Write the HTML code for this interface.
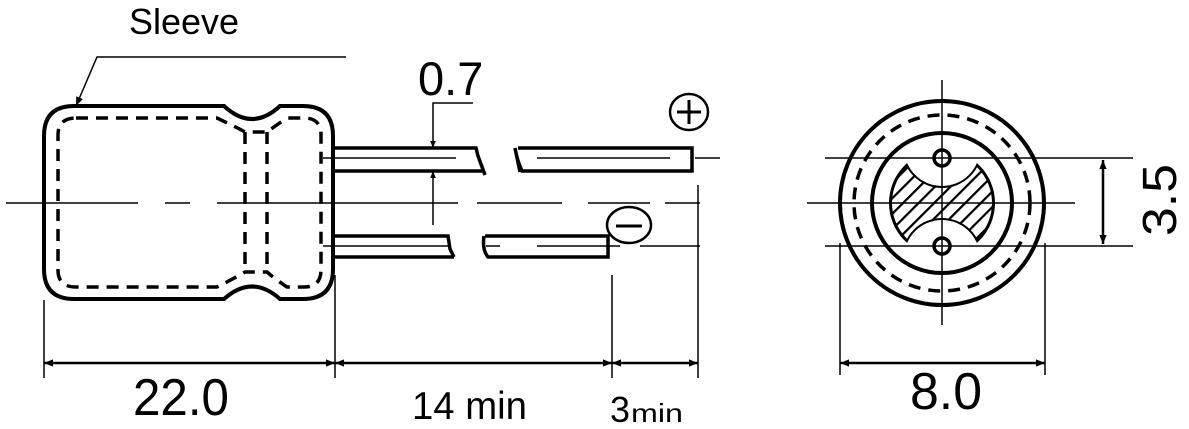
<!DOCTYPE html>
<html><head><style>html,body{margin:0;padding:0;background:#fff}svg{display:block}</style></head>
<body>
<svg width="1189" height="429" viewBox="0 0 1189 429" xmlns="http://www.w3.org/2000/svg">
<defs>
<marker id="a" viewBox="0 0 10 10" refX="10" refY="5" markerWidth="10" markerHeight="7" markerUnits="userSpaceOnUse" orient="auto-start-reverse"><path d="M0,1 L10,5 L0,9 z" fill="#000"/></marker>
<marker id="b" viewBox="0 0 10 10" refX="10" refY="5" markerWidth="14" markerHeight="9" markerUnits="userSpaceOnUse" orient="auto-start-reverse"><path d="M0,1 L10,5 L0,9 z" fill="#000"/></marker>
<mask id="m">
<circle cx="942" cy="203" r="53" fill="#fff"/>
<circle cx="942" cy="148" r="38" fill="#000"/>
<circle cx="942" cy="258" r="38" fill="#000"/>
</mask>
<pattern id="h" patternUnits="userSpaceOnUse" width="11" height="11" patternTransform="rotate(45)">
<rect width="11" height="11" fill="#fff"/><line x1="0" y1="0" x2="0" y2="11" stroke="#000" stroke-width="4.5"/>
</pattern>
</defs>
<g font-family="Liberation Sans, sans-serif" fill="#000">
<text x="129" y="34" font-size="36">Sleeve</text>
<text x="418" y="95" font-size="47">0.7</text>
<text x="133" y="415" font-size="52" textLength="96" lengthAdjust="spacingAndGlyphs">22.0</text>
<text x="412" y="419" font-size="39" textLength="115" lengthAdjust="spacingAndGlyphs">14 min</text>
<text x="610" y="422" font-size="36" textLength="20" lengthAdjust="spacingAndGlyphs">3</text>
<text x="631" y="422" font-size="26" textLength="52" lengthAdjust="spacingAndGlyphs">min</text>
<text x="910" y="409" font-size="52" textLength="72" lengthAdjust="spacingAndGlyphs">8.0</text>
<text transform="translate(1176,236) rotate(-90)" font-size="48" textLength="72" lengthAdjust="spacingAndGlyphs">3.5</text>
</g>
<g fill="none" stroke="#000">
<polyline points="346,57 97,57 76,106" stroke-width="1.5" marker-end="url(#b)"/>
<path d="M74,106 L224,106 Q252,132 280,106 L303,106 Q333,106 333,136 L333,269 Q333,299 303,299 L280,299 Q252,274 224,299 L74,299 Q44,299 44,269 L44,136 Q44,106 74,106 Z" stroke-width="4"/>
<path d="M76,118 L217,118 Q238,128 245,132 L267,132 Q275,126 287,118 L304,118 Q321,118 321,135 L321,270 Q321,287 304,287 L287,287 Q275,279 267,272 L245,272 Q235,278 217,287 L76,287 Q58,287 58,270 L58,135 Q58,118 76,118 Z" stroke-width="3.5" stroke-dasharray="12,8"/>
<line x1="245" y1="132" x2="245" y2="272" stroke-width="3.5" stroke-dasharray="12,8"/>
<line x1="267" y1="132" x2="267" y2="272" stroke-width="3.5" stroke-dasharray="12,8"/>
<path d="M6,203 H138 M165,203 H190 M217,203 H458 M477,203 H562 M588,203 H650 M665,203 H700" stroke-width="1.5"/>
<path d="M335,148 H476 L478,156 L485,175 M335,171 H482" stroke-width="3.5"/>
<path d="M518,148 H692 V171 H522 Q517,160 515,148 M515,148 L520,172" stroke-width="3.5"/>
<path d="M335,236 H448 L450,249 L454,257 M335,257 H454" stroke-width="3.5"/>
<path d="M485,236 H608 V257 H488 Q482,250 484,236" stroke-width="3.5"/>
<path d="M323,158 H456 M537,158 H670 M695,158 H720" stroke-width="1.5"/>
<path d="M323,246 H450 M486,246 H500 M537,246 H620 M640,246 H700" stroke-width="1.5"/>
<polyline points="473,103 433,103 433,148" stroke-width="1.5" marker-end="url(#a)"/>
<line x1="433" y1="225" x2="433" y2="171" stroke-width="1.5" marker-end="url(#a)"/>
<ellipse cx="689" cy="112" rx="19" ry="18" stroke-width="2.5"/>
<path d="M677,112 H701 M689,100 V124" stroke-width="3"/>
<ellipse cx="629" cy="225" rx="22" ry="18" stroke-width="2.5"/>
<path d="M616,226 H642" stroke-width="3"/>
<path d="M44,300 V378 M335,275 V378 M612,275 V378 M698,185 V378" stroke-width="1.5"/>
<line x1="44" y1="363" x2="335" y2="363" stroke-width="2.5" marker-start="url(#b)" marker-end="url(#b)"/>
<line x1="335" y1="363" x2="612" y2="363" stroke-width="2.5" marker-start="url(#b)" marker-end="url(#b)"/>
<line x1="612" y1="363" x2="698" y2="363" stroke-width="2.5" marker-start="url(#b)" marker-end="url(#b)"/>
<circle cx="942" cy="203" r="102" stroke-width="4"/>
<circle cx="942" cy="203" r="88" stroke-width="3.5" stroke-dasharray="12,8"/>
<circle cx="942" cy="203" r="70" stroke-width="4"/>
<rect x="880" y="140" width="130" height="130" fill="url(#h)" stroke="none" mask="url(#m)"/>
<g mask="url(#m)"><circle cx="942" cy="203" r="52" stroke-width="4"/><circle cx="942" cy="148" r="38" stroke-width="4"/><circle cx="942" cy="258" r="38" stroke-width="4"/></g>
<circle cx="942" cy="158" r="8" fill="#fff" stroke-width="3.5"/>
<circle cx="942" cy="246" r="8" fill="#fff" stroke-width="3.5"/>
<path d="M825,158 H1133 M825,246 H1133 M807,203 H1075 M942,80 V325" stroke-width="1.5"/>
<line x1="1103" y1="160" x2="1103" y2="244" stroke-width="2.5" marker-start="url(#b)" marker-end="url(#b)"/>
<path d="M840,243 V375 M1045,243 V375" stroke-width="1.5"/>
<line x1="840" y1="363" x2="1045" y2="363" stroke-width="2.5" marker-start="url(#b)" marker-end="url(#b)"/>
</g>
</svg>
</body></html>
